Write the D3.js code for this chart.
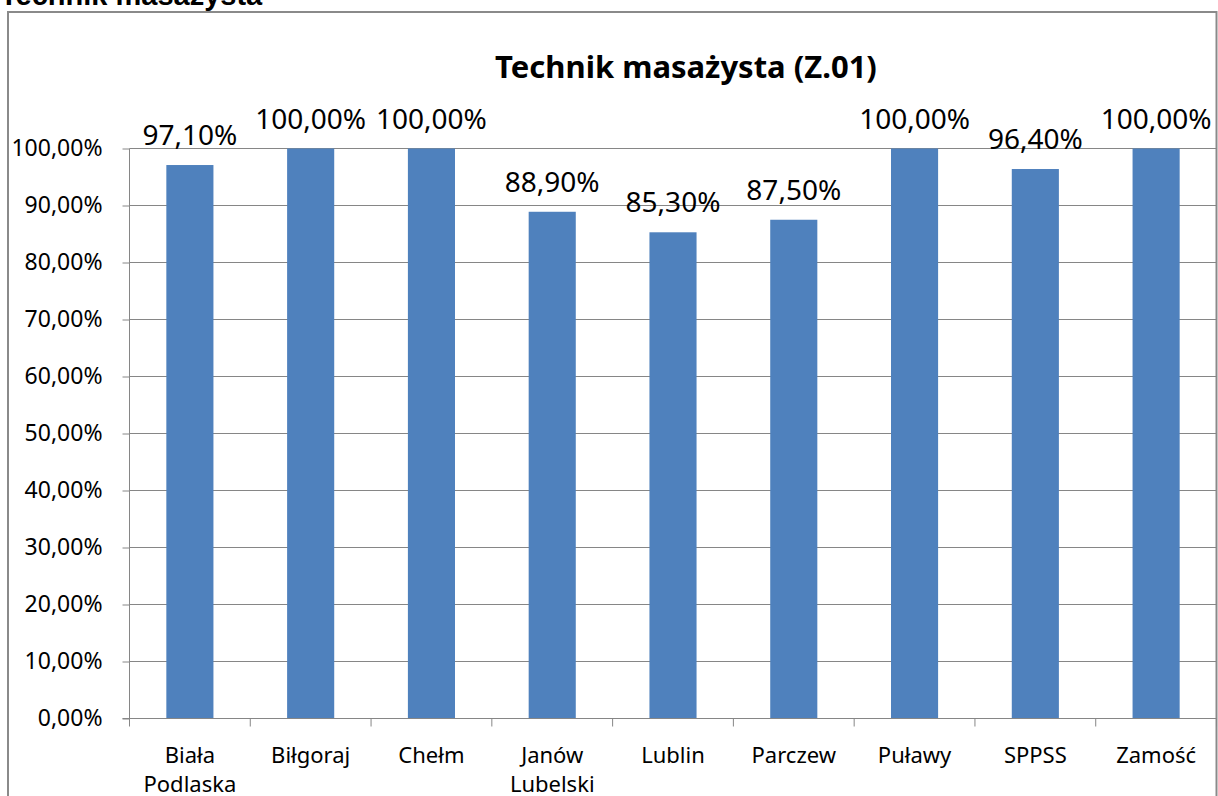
<!DOCTYPE html>
<html>
<head>
<meta charset="utf-8">
<script src="https://cdn.jsdelivr.net/npm/d3@7"></script>
<style>
  body { margin: 0; background: #fff; }
  svg text { font-family: "Noto Sans", sans-serif; fill: #000; }
</style>
</head>
<body>
<svg id="chart" width="1218" height="796"></svg>
<script>
var categories = ["Biała Podlaska", "Biłgoraj", "Chełm", "Janów Lubelski", "Lublin", "Parczew", "Puławy", "SPPSS", "Zamość"];
var values = [97.1, 100, 100, 88.9, 85.3, 87.5, 100, 96.4, 100];
var yTicks = [0, 10, 20, 30, 40, 50, 60, 70, 80, 90, 100];

var svg = d3.select("#chart");

function pct(v) {
  return d3.format(".2f")(v).replace(".", ",") + "%";
}

// caption above the chart box (cut off at the top)
svg.append("text")
  .attr("x", 0).attr("y", 5)
  .style("font-family", "'Liberation Sans', Arial, sans-serif")
  .style("font-weight", "bold")
  .style("font-size", "29px")
  .text("Technik masażysta");

// outer chart border
svg.append("rect")
  .attr("x", 8).attr("y", 12)
  .attr("width", 1208.5).attr("height", 820)
  .attr("fill", "none")
  .attr("stroke", "#8a8a8a")
  .attr("stroke-width", 2);

var x0 = 129.5, x1 = 1216.5;
var xCat = d3.scaleBand().domain(categories).range([x0, x1]).padding(0);
var xBar = d3.scaleBand().domain(categories).range([x0, x1])
  .paddingInner(0.61).paddingOuter(0.305);
var y = d3.scaleLinear().domain([0, 100]).range([718.5, 148.5]);

// title
svg.append("text")
  .attr("x", 686).attr("y", 78)
  .attr("text-anchor", "middle")
  .style("font-weight", "bold")
  .style("font-size", "31px")
  .text("Technik masażysta (Z.01)");

// gridlines + y axis
var yAxis = svg.append("g")
  .attr("transform", "translate(" + x0 + ",0)")
  .call(d3.axisLeft(y).tickValues(yTicks).tickSize(7).tickPadding(20).tickFormat(pct));
yAxis.select(".domain").remove();
yAxis.selectAll(".tick line").attr("stroke", "#868686");
yAxis.selectAll(".tick text").style("font-size", "23px").style("font-family", "'Noto Sans', sans-serif").attr("fill", "#000");

svg.append("g")
  .selectAll("line")
  .data(yTicks.filter(function(d) { return d > 0; }))
  .enter().append("line")
  .attr("x1", x0).attr("x2", x1)
  .attr("y1", function(d) { return y(d); })
  .attr("y2", function(d) { return y(d); })
  .attr("stroke", "#868686")
  .attr("stroke-width", 1);

// bars
svg.append("g")
  .selectAll("rect")
  .data(values)
  .enter().append("rect")
  .attr("x", function(d, i) { return xBar(categories[i]); })
  .attr("width", xBar.bandwidth())
  .attr("y", function(d) { return y(d); })
  .attr("height", function(d) { return y(0) - y(d); })
  .attr("fill", "#4f81bd");

// data labels
svg.append("g")
  .selectAll("text")
  .data(values)
  .enter().append("text")
  .attr("x", function(d, i) { return xCat(categories[i]) + xCat.bandwidth() / 2; })
  .attr("y", function(d) { return y(d) - 20; })
  .attr("text-anchor", "middle")
  .style("font-size", "28px")
  .text(pct);

// axis lines
svg.append("line")
  .attr("x1", x0).attr("x2", x0).attr("y1", y(100)).attr("y2", y(0))
  .attr("stroke", "#868686");
svg.append("line")
  .attr("x1", x0 - 7).attr("x2", x1).attr("y1", y(0)).attr("y2", y(0))
  .attr("stroke", "#868686");

// category boundary ticks
var bounds = categories.map(function(c) { return xCat(c); }).concat([x1]);
svg.append("g")
  .selectAll("line")
  .data(bounds)
  .enter().append("line")
  .attr("x1", function(d) { return d; }).attr("x2", function(d) { return d; })
  .attr("y1", y(0)).attr("y2", y(0) + 8)
  .attr("stroke", "#868686");

// category labels
var xAxis = svg.append("g")
  .attr("transform", "translate(0," + y(0) + ")")
  .call(d3.axisBottom(xCat).tickSize(0).tickPadding(0).tickFormat(""));
xAxis.select(".domain").remove();
xAxis.selectAll(".tick").each(function(d) {
  var words = d.split(" ");
  var t = d3.select(this).append("text")
    .attr("text-anchor", "middle")
    .attr("fill", "#000")
    .style("font-size", "22px")
    .style("font-family", "'Noto Sans', sans-serif");
  words.forEach(function(w, i) {
    t.append("tspan").attr("x", 0).attr("y", 44 + i * 29).text(w);
  });
});
</script>
</body>
</html>
